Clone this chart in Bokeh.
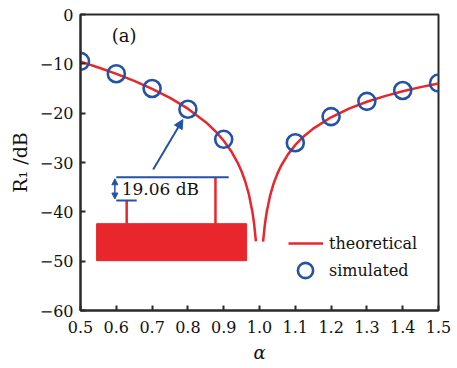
from bokeh.plotting import figure
from bokeh.models import (Range1d, FixedTicker, Label, Arrow, NormalHead, Legend, LegendItem)
from bokeh.embed import file_html
from bokeh.resources import INLINE

# ---- data ----
theory_left_alpha = [0.50, 0.55, 0.60, 0.65, 0.70, 0.75, 0.80, 0.85, 0.88, 0.90, 0.92, 0.94,
                     0.95, 0.96, 0.97, 0.98, 0.985, 0.99]
theory_left_db = [-9.54, -10.74, -12.04, -13.47, -15.07, -16.90, -19.08, -21.82, -23.90, -25.58,
                  -27.60, -30.19, -31.82, -33.80, -36.35, -39.91, -42.43, -45.98]
theory_right_alpha = [1.01, 1.015, 1.02, 1.03, 1.04, 1.05, 1.06, 1.08, 1.10, 1.12, 1.15, 1.20,
                      1.25, 1.30, 1.35, 1.40, 1.45, 1.50]
theory_right_db = [-46.06, -42.56, -40.09, -36.61, -34.15, -32.26, -30.71, -28.30, -26.44, -24.94,
                   -23.13, -20.83, -19.08, -17.69, -16.54, -15.56, -14.72, -13.98]
sim_alpha = [0.5, 0.6, 0.7, 0.8, 0.9, 1.1, 1.2, 1.3, 1.4, 1.5]
sim_db = [-9.5, -12.0, -15.0, -19.2, -25.3, -26.0, -20.7, -17.6, -15.4, -13.9]
x_ticks = [0.5, 0.6, 0.7, 0.8, 0.9, 1.0, 1.1, 1.2, 1.3, 1.4, 1.5]
x_tick_labels = ["0.5", "0.6", "0.7", "0.8", "0.9", "1.0", "1.1", "1.2", "1.3", "1.4", "1.5"]
y_ticks = [0, -10, -20, -30, -40, -50, -60]
y_tick_labels = ["0", "\u221210", "\u221220", "\u221230", "\u221240", "\u221250", "\u221260"]

# inset spectrum (in data coordinates of the main axes)
inset_alpha = [0.545, 0.964]          # extent of the noise band
inset_db = [-49.9, -42.4]             # floor / top of noise band
spike_alpha = [0.629, 0.877]
spike_top_db = [-37.7, -33.0]
marker_line_alpha = [0.600, 0.914]    # long blue marker line
short_line_alpha = [0.600, 0.657]
diff_label = "19.06 dB"

RED = "#e8262b"
BLUE = "#2452a8"
FONT = "DejaVu Serif"
INK = "#111111"

p = figure(frame_width=358, frame_height=296, output_backend="svg", toolbar_location=None,
           x_range=Range1d(0.5, 1.5), y_range=Range1d(-60, 0),
           min_border_left=80, min_border_right=19, min_border_top=14, min_border_bottom=58)
p.grid.visible = False
p.outline_line_color = "#2a2a2a"
p.outline_line_width = 2
p.background_fill_color = "white"
p.border_fill_color = "white"

for ax in (p.xaxis[0], p.yaxis[0]):
    ax.axis_line_color = "#2a2a2a"
    ax.axis_line_width = 2
    ax.major_tick_in = 5
    ax.major_tick_out = 0
    ax.major_tick_line_color = "#2a2a2a"
    ax.major_tick_line_width = 2
    ax.minor_tick_line_color = None
    ax.major_label_text_font = FONT
    ax.major_label_text_font_size = "16px"
    ax.major_label_text_color = INK
    ax.axis_label_text_font = FONT
    ax.axis_label_text_color = INK

p.xaxis.ticker = FixedTicker(ticks=x_ticks)
p.xaxis.major_label_overrides = dict(zip(x_ticks, x_tick_labels))
p.yaxis.ticker = FixedTicker(ticks=y_ticks)
p.yaxis.major_label_overrides = dict(zip(y_ticks, y_tick_labels))
p.xaxis.major_label_standoff = 10
p.yaxis.major_label_standoff = 7

p.xaxis.axis_label = "\u03b1"
p.xaxis.axis_label_text_font_style = "italic"
p.xaxis.axis_label_text_font_size = "18px"
p.xaxis.axis_label_standoff = 6

p.yaxis.axis_label = "R\u2081 /dB"
p.yaxis.axis_label_text_font_style = "normal"
p.yaxis.axis_label_text_font_size = "19px"
p.yaxis.axis_label_standoff = 6

# inset noise band and spikes
p.quad(left=[inset_alpha[0]], right=[inset_alpha[1]], bottom=[inset_db[0]], top=[inset_db[1]],
       fill_color=RED, line_color=RED, line_width=1)
p.segment(x0=spike_alpha, y0=[inset_db[1]] * 2, x1=spike_alpha, y1=spike_top_db,
          line_color=RED, line_width=2.5)
p.segment(x0=[marker_line_alpha[0]], y0=[spike_top_db[1]], x1=[marker_line_alpha[1]],
          y1=[spike_top_db[1]], line_color=BLUE, line_width=2)
p.segment(x0=[short_line_alpha[0]], y0=[spike_top_db[0]], x1=[short_line_alpha[1]],
          y1=[spike_top_db[0]], line_color=BLUE, line_width=2)
p.add_layout(Arrow(x_start=marker_line_alpha[0] - 0.004, y_start=spike_top_db[1] - 0.3,
                   x_end=marker_line_alpha[0] - 0.004, y_end=spike_top_db[0] + 0.3,
                   start=NormalHead(size=6, fill_color=BLUE, line_color=BLUE),
                   end=NormalHead(size=6, fill_color=BLUE, line_color=BLUE),
                   line_color=BLUE, line_width=1.5))
p.add_layout(Label(x=0.615, y=-35.3, text=diff_label, text_font=FONT, text_font_size="17px",
                   text_baseline="middle", text_color=INK))
# pointer arrow
p.add_layout(Arrow(x_start=0.703, y_start=-31.4, x_end=0.786, y_end=-21.3,
                   end=NormalHead(size=9, fill_color=BLUE, line_color=BLUE),
                   line_color=BLUE, line_width=2))

# theoretical curve (two branches)
r1 = p.line(theory_left_alpha, theory_left_db, line_color=RED, line_width=2.5)
p.line(theory_right_alpha, theory_right_db, line_color=RED, line_width=2.5)
r2 = p.scatter(sim_alpha, sim_db, marker="circle", size=17, fill_color=None,
               line_color=BLUE, line_width=2.6)

legend_common = dict(border_line_color=None, background_fill_alpha=0, label_text_font=FONT,
                     label_text_font_size="16px", label_text_color=INK, padding=0, margin=0)
leg1 = Legend(items=[LegendItem(label="theoretical", renderers=[r1])],
              location=(208, 57), glyph_width=35, glyph_height=20, label_standoff=6,
              **legend_common)
leg2 = Legend(items=[LegendItem(label="simulated", renderers=[r2])],
              location=(204, 21), glyph_width=42, glyph_height=38, label_standoff=3,
              **legend_common)
p.add_layout(leg1)
p.add_layout(leg2)

p.add_layout(Label(x=0.587, y=-4.2, text="(a)", text_font=FONT, text_font_size="18px",
                   text_baseline="middle", text_color=INK))

open("out.html", "w").write(file_html(p, INLINE))
